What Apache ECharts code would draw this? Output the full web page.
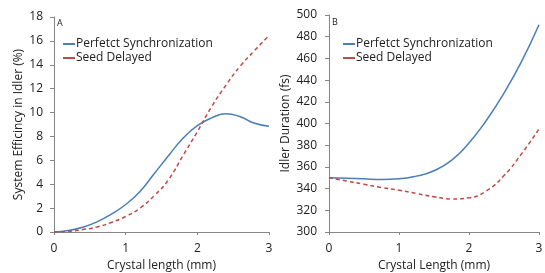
<!DOCTYPE html>
<html><head><meta charset="utf-8">
<script src="https://cdn.jsdelivr.net/npm/echarts@6/dist/echarts.min.js"></script>
<style>html,body{margin:0;padding:0;background:#fff}#c{width:545px;height:273px}</style>
</head><body><div id="c"></div>
<script>
var effX = [0, 0.2, 0.4, 0.6, 0.8, 1.0, 1.2, 1.4, 1.6, 1.8, 2.0, 2.2, 2.4, 2.6, 2.8, 3.0];
var effPerfect = [0, 0.12, 0.4, 0.85, 1.5, 2.3, 3.4, 4.9, 6.4, 7.85, 8.9, 9.55, 9.9, 9.65, 9.1, 8.85];
var effDelayed = [0, 0.05, 0.2, 0.42, 0.8, 1.3, 2.0, 3.05, 4.4, 6.4, 8.4, 10.5, 12.3, 13.9, 15.2, 16.45];
var durX = [0, 0.25, 0.5, 0.75, 1.0, 1.25, 1.5, 1.75, 2.0, 2.25, 2.5, 2.75, 3.0];
var durPerfect = [350, 349.5, 349, 348.5, 349, 351.5, 356.5, 366, 382, 403, 428, 457, 491];
var durDelayed = [350, 347, 344, 341, 338.5, 335.5, 332.5, 330.5, 331.5, 338, 352, 372, 395];
var names = ['Perfetct Synchronization', 'Seed Delayed'];
var panelLabels = ['A', 'B'];

function pairs(xs, ys){ return xs.map(function(x,i){return [x, ys[i]];}); }
var FONT = 'Open Sans';
var axisColor = '#868686';
function xAxis(idx, name, gap){
  return {type:'value', gridIndex:idx, min:0, max:3, interval:1, name:name, nameLocation:'middle', nameGap:gap,
    nameTextStyle:{fontFamily:FONT, fontSize:12, color:'#222'},
    axisLine:{lineStyle:{color:axisColor}}, axisTick:{show:true, length:3, lineStyle:{color:axisColor}}, splitLine:{show:false},
    axisLabel:{fontFamily:FONT, fontSize:12, color:'#222', margin:11}};
}
function yAxis(idx, name, min, max, interval, gap, margin){
  return {type:'value', gridIndex:idx, min:min, max:max, interval:interval, name:name, nameLocation:'middle', nameGap:gap,
    nameTextStyle:{fontFamily:FONT, fontSize:12, color:'#222'},
    axisLine:{show:true, lineStyle:{color:axisColor}}, axisTick:{show:true, length:4, lineStyle:{color:axisColor}},
    splitLine:{show:false}, axisLabel:{fontFamily:FONT, fontSize:12, color:'#222', margin:margin}};
}
var blue = '#4a7ebb', red = '#be4b48';
function legend(left){
  return {left:left, top:33, orient:'vertical', itemGap:2, itemWidth:12, itemHeight:10, data:names,
    textStyle:{fontFamily:FONT, fontSize:12, color:'#222', padding:[0,0,0,-4]},
    icon:'path://M0,4L12,4L12,6L0,6Z', selectedMode:false};
}
function line(name, xi, xs, ys, color, dashed){
  return {name:name, type:'line', xAxisIndex:xi, yAxisIndex:xi, data:pairs(xs, ys), smooth:0.5, showSymbol:false,
    lineStyle:{color:color, width:1.5, type: dashed ? [4,3] : 'solid'}, itemStyle:{color:color}};
}
var chart = echarts.init(document.getElementById('c'), null, {renderer:'canvas'});
chart.setOption({
  animation:false,
  grid:[{left:54, top:17, width:215, height:215, outerBoundsMode:'none', containLabel:false},
        {left:329, top:15, width:210, height:217, outerBoundsMode:'none', containLabel:false}],
  xAxis:[xAxis(0,'Crystal length (mm)', 25), xAxis(1,'Crystal Length (mm)', 20)],
  yAxis:[yAxis(0,'System Efficincy in Idler (%)',0,18,2,29,11), yAxis(1,'Idler Duration (fs)',300,500,20,37,12)],
  legend:[legend(58), legend(338)],
  graphic:[
    {type:'text', left:57, top:19, style:{text:panelLabels[0], fontFamily:FONT, fontSize:9, fill:'#222'}},
    {type:'text', left:332, top:18, style:{text:panelLabels[1], fontFamily:FONT, fontSize:9, fill:'#222'}}
  ],
  series:[
    line(names[0], 0, effX, effPerfect, blue, false),
    line(names[1], 0, effX, effDelayed, red, true),
    line(names[0], 1, durX, durPerfect, blue, false),
    line(names[1], 1, durX, durDelayed, red, true)
  ]
});
</script></body></html>
